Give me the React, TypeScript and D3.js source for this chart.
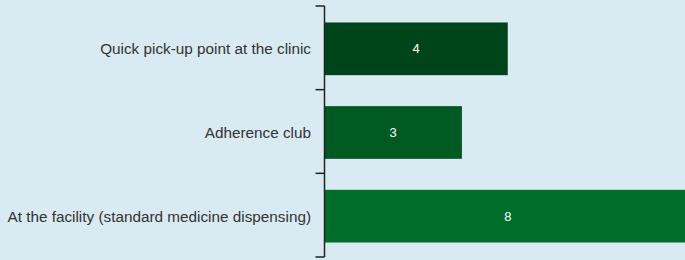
import React, { useRef, useEffect } from 'react';
import * as d3 from 'd3';

const categories = [
  'Quick pick-up point at the clinic',
  'Adherence club',
  'At the facility (standard medicine dispensing)',
];
const values = [4, 3, 8];
const colors = ['#00441b', '#005a22', '#006d2c'];

const App = () => {
  const ref = useRef<SVGSVGElement>(null);

  useEffect(() => {
    const width = 685;
    const height = 260;
    const axisX = 324.5;

    const svg = d3.select(ref.current);
    svg.selectAll('*').remove();

    svg.append('rect')
      .attr('width', width)
      .attr('height', height)
      .attr('fill', '#d9eaf2');

    const y = d3.scaleBand<string>()
      .domain(categories)
      .range([6, 257])
      .padding(0);

    const x = d3.scaleLinear()
      .domain([0, 8])
      .range([axisX, 691]);

    const barH = y.bandwidth() * 0.63;

    // bars
    svg.selectAll('.bar')
      .data(values)
      .enter().append('rect')
      .attr('class', 'bar')
      .attr('x', x(0))
      .attr('y', (d, i) => y(categories[i])! + (y.bandwidth() - barH) / 2 + 1)
      .attr('width', d => x(d) - x(0))
      .attr('height', barH)
      .attr('fill', (d, i) => colors[i]);

    // value labels
    svg.selectAll('.val')
      .data(values)
      .enter().append('text')
      .attr('class', 'val')
      .attr('x', d => (x(0) + x(d)) / 2)
      .attr('y', (d, i) => y(categories[i])! + y.bandwidth() / 2 + 1)
      .attr('dy', '0.35em')
      .attr('text-anchor', 'middle')
      .attr('fill', '#ffffff')
      .style('font-family', 'Arial, "Liberation Sans", sans-serif')
      .style('font-size', '13px')
      .text(d => d);

    // axis: line with ticks at band boundaries
    const g = svg.append('g');
    const [r0, r1] = y.range();
    g.append('line')
      .attr('x1', axisX).attr('x2', axisX)
      .attr('y1', r0).attr('y2', r1)
      .attr('stroke', '#222').attr('stroke-width', 1.5);

    const bounds = [...categories.map(c => y(c)!), r1];
    g.selectAll('.tick')
      .data(bounds)
      .enter().append('line')
      .attr('x1', axisX - 9).attr('x2', axisX)
      .attr('y1', d => d).attr('y2', d => d)
      .attr('stroke', '#222').attr('stroke-width', 1.5);

    g.selectAll('.cat')
      .data(categories)
      .enter().append('text')
      .attr('x', 311)
      .attr('y', d => y(d)! + y.bandwidth() / 2 + 1)
      .attr('dy', '0.35em')
      .attr('text-anchor', 'end')
      .attr('fill', '#333')
      .style('font-family', 'Arial, "Liberation Sans", sans-serif')
      .style('font-size', '15.3px')
      .text(d => d);
  }, []);

  return (
    <svg
      ref={ref}
      width={685}
      height={260}
      style={{ position: 'absolute', left: 0, top: 0 }}
    />
  );
};

export default App;
